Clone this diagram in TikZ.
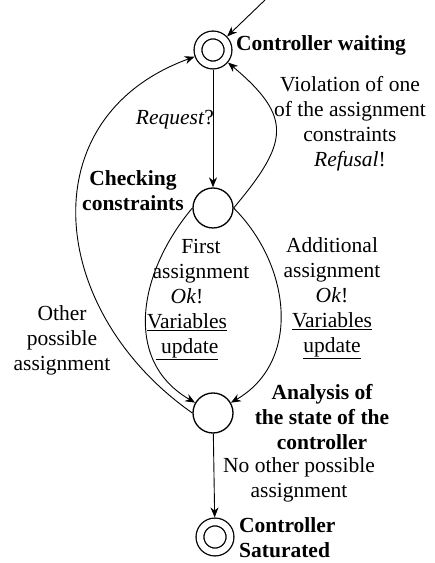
\documentclass[tikz,border=0pt]{standalone}
\usepackage{fontspec}
\setmainfont{Liberation Serif}
\usetikzlibrary{arrows.meta,positioning}

\begin{document}
\begin{tikzpicture}[x=1pt,y=1pt,>={Stealth[length=10pt,width=8pt]},
  state/.style={circle,draw,line width=1.3pt,minimum size=40pt,inner sep=0pt},
  accept/.style={circle,draw,line width=1.3pt,double,double distance=6.5pt,minimum size=30pt,inner sep=0pt,outer sep=4.6pt},
  lbl/.style={align=center,inner sep=0pt,font=\fontsize{21.5}{25}\selectfont},
  slbl/.style={lbl,font=\fontsize{21.5}{25}\selectfont\bfseries},
  trans/.style={->,line width=0.9pt}]
    \useasboundingbox (0,0) rectangle (435,563);
    % states
    \node[accept] (wait) at (213,513) {};
    \node[state] (check) at (213,355) {};
    \node[state] (anal) at (213,150) {};
    \node[accept] (sat) at (215,26) {};
    \coordinate (init) at (265,563);
    % state names
    \node[slbl,anchor=west] (waitname) at (236,518) {Controller waiting};
    \node[slbl] (checkname) at (133,372) {Checking\\constraints};
    \node[slbl] (analname) at (322,146) {Analysis of\\the state of the\\controller};
    \node[slbl,anchor=west,align=left] (satname) at (239,25) {Controller\\Saturated};
    % transitions
    \draw[trans] (init) -- (wait);
    \draw[trans] (wait) -- (check);
    \draw[trans] (check.east) to[out=50,in=-40,looseness=1.5] (wait);
    \draw[trans] (check.west) to[out=230,in=150,looseness=1.1] (anal);
    \draw[trans] (check.east) to[out=-45,in=30,looseness=1.07] (anal);
    \draw[trans] (anal.west) to[out=145,in=200,looseness=1.27] (wait);
    \draw[trans] (anal) -- (sat);
    % transition labels
    \node[lbl] (request) at (175,443) {\textit{Request}?};
    \node[lbl] (refusal) at (350,439) {Violation of one\\of the assignment\\constraints\\\textit{Refusal}!};
    \node[lbl] (first) at (201,302) {First\\assignment};
    \node[lbl] (firstok) at (187,239) {\textit{Ok}!\\\underline{Variables}\\\underline{\ update}};
    \node[lbl] (addit) at (332,265) {Additional\\assignment\\\textit{Ok}!\\\underline{Variables}\\\underline{update}};
    \node[lbl] (other) at (62,223) {Other\\possible\\assignment};
    \node[lbl] (noother) at (299,83) {No other possible\\assignment};
\end{tikzpicture}
\end{document}
